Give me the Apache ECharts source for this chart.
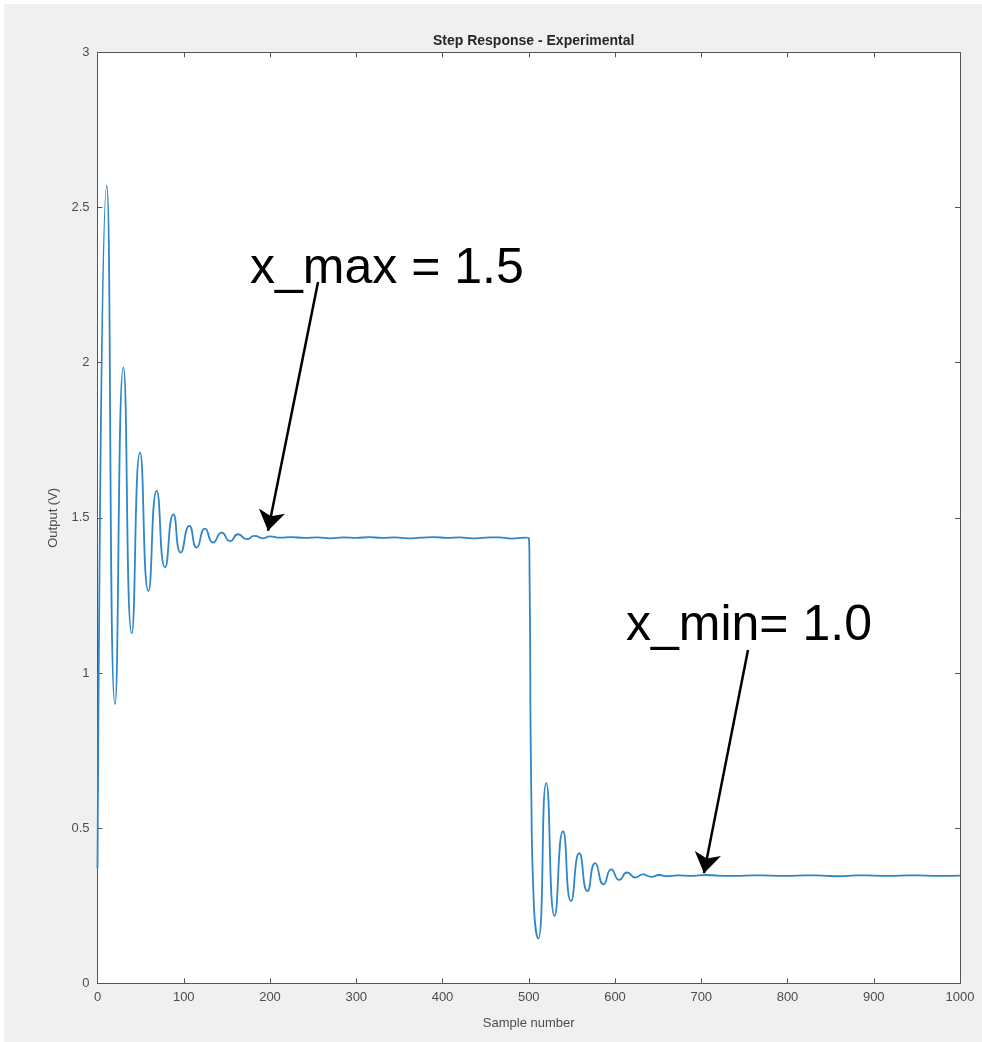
<!DOCTYPE html>
<html>
<head>
<meta charset="utf-8">
<script src="https://cdn.jsdelivr.net/npm/echarts@6/dist/echarts.min.js"></script>
<style>
html,body{margin:0;padding:0;background:#fff;}
#chart{position:absolute;left:4px;top:4px;width:978px;height:1038px;background:#f0f0f0;}
</style>
</head>
<body>
<div id="chart"></div>
<script>
const samples = [
  0, 10.7, 20.3, 30, 39.7, 49.3, 59, 68.6, 78.3, 88, 96.5, 106.5, 115, 124.7, 134, 144, 153.7, 163, 173, 182, 192,
  200, 212, 225, 240, 255, 270, 285, 300, 315, 330, 345, 360, 375, 390, 405, 420, 435, 450, 465, 480, 495, 500,
  501, 503, 506, 511, 520.3, 530, 539.7, 549, 558.6, 568, 577, 586.8, 595.7, 605, 614, 623.6, 632.5, 642, 651, 660,
  672, 690, 705, 720, 740, 760, 780, 800, 820, 840, 860, 880, 900, 920, 940, 960, 980, 1000
];
const output = [
  0.37, 2.57, 0.90, 1.985, 1.128, 1.71, 1.264, 1.587, 1.34, 1.511, 1.388, 1.474, 1.404, 1.465, 1.42, 1.452, 1.425, 1.447, 1.431, 1.442, 1.434,
  1.440, 1.436, 1.438, 1.435, 1.437, 1.434, 1.437, 1.435, 1.438, 1.435, 1.437, 1.434, 1.436, 1.438, 1.435, 1.437, 1.434, 1.436, 1.437, 1.433, 1.436, 1.435,
  1.30, 0.60, 0.25, 0.144, 0.645, 0.217, 0.49, 0.265, 0.419, 0.297, 0.387, 0.319, 0.367, 0.333, 0.357, 0.341, 0.351, 0.343, 0.349, 0.345,
  0.348, 0.346, 0.349, 0.347, 0.346, 0.348, 0.347, 0.346, 0.348, 0.347, 0.345, 0.348, 0.347, 0.346, 0.348, 0.347, 0.346, 0.347
];
const xTickValues = [0, 100, 200, 300, 400, 500, 600, 700, 800, 900, 1000];
const xTickLabels = ['0', '100', '200', '300', '400', '500', '600', '700', '800', '900', '1000'];
const yTickValues = [0, 0.5, 1, 1.5, 2, 2.5, 3];
const yTickLabels = ['0', '0.5', '1', '1.5', '2', '2.5', '3'];
// Annotation arrows: [start sample, start value] -> [end sample, end value]
const arrowMax = [[255.7, 2.26], [197.7, 1.458]];
const arrowMin = [[754.2, 1.074], [703.2, 0.355]];

const lineData = samples.map((s, i) => [s, output[i]]);
const fmt = (vals, labels) => v => {
  const i = vals.findIndex(t => Math.abs(t - v) < 1e-9);
  return i >= 0 ? labels[i] : '';
};
const axisColor = '#555555';
const labelColor = '#4d4d4d';
const font = '"Liberation Sans", Arial, Helvetica, sans-serif';
const lineSty = {show: true, onZero: false, lineStyle: {color: axisColor, width: 1}};
const tickSty = {show: true, inside: true, length: 5, lineStyle: {color: axisColor}};

const chart = echarts.init(document.getElementById('chart'), null, {renderer: 'canvas'});
chart.setOption({
  animation: false,
  backgroundColor: 'transparent',
  textStyle: {fontFamily: font},
  title: {
    text: 'Step Response - Experimental',
    left: 524.7, top: 25, textAlign: 'center',
    textStyle: {fontSize: 14, fontWeight: 'bold', color: '#262626', fontFamily: font}
  },
  grid: {left: 93.5, top: 48.3, right: 22, bottom: 58.7, show: true, backgroundColor: '#ffffff', borderWidth: 0},
  xAxis: [{
    type: 'value', min: 0, max: 1000, interval: 100, position: 'bottom',
    name: 'Sample number', nameLocation: 'middle', nameGap: 34,
    nameTextStyle: {fontSize: 13, color: labelColor, fontFamily: font},
    axisLine: lineSty, axisTick: tickSty,
    axisLabel: {fontSize: 13, color: labelColor, margin: 8, fontFamily: font, formatter: fmt(xTickValues, xTickLabels)},
    splitLine: {show: false}
  }, {
    type: 'value', min: 0, max: 1000, interval: 100, position: 'top',
    axisLine: lineSty, axisTick: tickSty,
    axisLabel: {show: false}, splitLine: {show: false}
  }],
  yAxis: [{
    type: 'value', min: 0, max: 3, interval: 0.5, position: 'left',
    name: 'Output (V)', nameLocation: 'middle', nameGap: 38,
    nameTextStyle: {fontSize: 13, color: labelColor, fontFamily: font},
    axisLine: lineSty, axisTick: tickSty,
    axisLabel: {fontSize: 13, color: labelColor, margin: 8, fontFamily: font, formatter: fmt(yTickValues, yTickLabels)},
    splitLine: {show: false}
  }, {
    type: 'value', min: 0, max: 3, interval: 0.5, position: 'right',
    axisLine: lineSty, axisTick: tickSty,
    axisLabel: {show: false}, splitLine: {show: false}
  }],
  series: [{
    type: 'line',
    data: lineData,
    smooth: 0.6,
    showSymbol: false,
    lineStyle: {color: '#2f86c9', width: 1.8},
    markLine: {
      silent: true,
      symbol: ['none', 'arrow'],
      symbolSize: 20,
      label: {show: false},
      lineStyle: {color: '#000000', width: 2.5, type: 'solid'},
      data: [
        [{coord: arrowMax[0]}, {coord: arrowMax[1]}],
        [{coord: arrowMin[0]}, {coord: arrowMin[1]}]
      ]
    }
  }],
  graphic: [
    {type: 'text', left: 246, top: 240, style: {text: 'x_max = 1.5', font: '50px ' + font, fill: '#000'}},
    {type: 'text', left: 622, top: 597, style: {text: 'x_min= 1.0', font: '50px ' + font, fill: '#000'}}
  ]
});
</script>
</body>
</html>
